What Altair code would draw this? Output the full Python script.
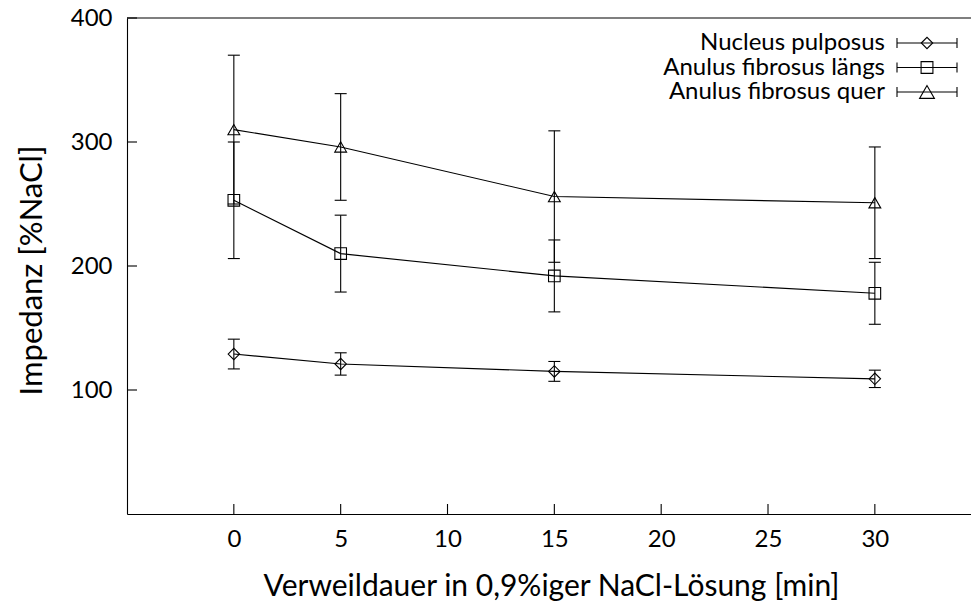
import altair as alt
import pandas as pd

# ---- data ----
times = [0, 5, 15, 30]
series_names = ["Nucleus pulposus", "Anulus fibrosus längs", "Anulus fibrosus quer"]
np_mean = [129, 121, 115, 109]
np_err = [12, 9, 8, 7]
afl_mean = [253, 210, 192, 178]
afl_err = [47, 31, 29, 25]
afq_mean = [310, 296, 256, 251]
afq_err = [60, 43, 53, 45]
x_ticks = [0, 5, 10, 15, 20, 25, 30]
y_ticks = [100, 200, 300, 400]
shapes = ["diamond", "square", "triangle-up"]
sizes = [130, 140, 220]

rows = []
for name, means, errs in zip(series_names, [np_mean, afl_mean, afq_mean], [np_err, afl_err, afq_err]):
    for t, m, e in zip(times, means, errs):
        rows.append({"series": name, "t": t, "mean": m, "lo": m - e, "hi": m + e})
df = pd.DataFrame(rows)

W, H = 844, 496
FONT = "Lato"
XT = "Verweildauer in 0,9%iger NaCl-Lösung [min]"
YT = "Impedanz [%NaCl]"
INK = "black"
SW = 1.1

xscale = alt.Scale(domain=[-5, 34.5], nice=False, zero=False)
yscale = alt.Scale(domain=[0, 400], nice=False, zero=False)
x_axis = alt.Axis(values=x_ticks, labelPadding=13, titleX=424, titleY=81,
                  titleAlign="center", titleBaseline="alphabetic")
y_axis = alt.Axis(values=y_ticks, labelPadding=15, titleX=-86, titleY=252, titleAngle=270,
                  titleAlign="center", titleBaseline="alphabetic", titleFontSize=31)


def X(field):
    return alt.X(field, type="quantitative", scale=xscale, axis=x_axis, title=XT)


def Y(field):
    return alt.Y(field, type="quantitative", scale=yscale, axis=y_axis, title=YT)


base = alt.Chart(df)

lines = base.mark_line(color=INK, strokeWidth=SW).encode(
    x=X("t"), y=Y("mean"), detail="series:N"
)
bars = base.mark_rule(color=INK, strokeWidth=SW).encode(
    x=X("t"), y=Y("lo"), y2="hi"
)
cap_lo = base.mark_rule(color=INK, strokeWidth=SW, xOffset=-6, x2Offset=6).encode(
    x=X("t"), x2="t", y=Y("lo")
)
cap_hi = base.mark_rule(color=INK, strokeWidth=SW, xOffset=-6, x2Offset=6).encode(
    x=X("t"), x2="t", y=Y("hi")
)
points = base.mark_point(filled=False, color=INK, strokeWidth=SW, opacity=1).encode(
    x=X("t"), y=Y("mean"),
    shape=alt.Shape("series:N", scale=alt.Scale(domain=series_names, range=shapes), legend=None),
    size=alt.Size("series:N", scale=alt.Scale(domain=series_names, range=sizes), legend=None),
)

# inward tick marks
yt = alt.Chart(pd.DataFrame({"v": y_ticks})).mark_rule(color=INK, strokeWidth=SW).encode(
    y=Y("v"), x=alt.value(0), x2=alt.value(10)
)
xt = alt.Chart(pd.DataFrame({"v": x_ticks})).mark_rule(color=INK, strokeWidth=SW).encode(
    x=X("v"), y=alt.value(H - 10), y2=alt.value(H)
)
top = alt.Chart(pd.DataFrame({"a": [0]})).mark_rule(color=INK, strokeWidth=SW).encode(
    x=alt.value(0), x2=alt.value(W), y=alt.value(0)
)

# key (top right)
legend_layers = []
for i, name in enumerate(series_names):
    yp = 25 + 24.5 * i
    one = alt.Chart(pd.DataFrame({"label": [name]}))
    legend_layers += [
        one.mark_text(align="right", baseline="middle", font=FONT, fontSize=24, color=INK).encode(
            x=alt.value(758), y=alt.value(yp), text="label:N"),
        one.mark_rule(color=INK, strokeWidth=SW).encode(
            x=alt.value(770), x2=alt.value(830), y=alt.value(yp)),
        one.mark_rule(color=INK, strokeWidth=SW).encode(
            x=alt.value(770), y=alt.value(yp - 5), y2=alt.value(yp + 5)),
        one.mark_rule(color=INK, strokeWidth=SW).encode(
            x=alt.value(830), y=alt.value(yp - 5), y2=alt.value(yp + 5)),
        one.mark_point(shape=shapes[i], size=sizes[i], filled=False, color=INK,
                       strokeWidth=SW, opacity=1).encode(
            x=alt.value(800), y=alt.value(yp)),
    ]

chart = alt.layer(lines, bars, cap_lo, cap_hi, points, yt, xt, top, *legend_layers).properties(
    width=W, height=H,
    autosize=alt.AutoSizeParams(type="none"),
    padding={"left": 127, "top": 18, "right": 0, "bottom": 90},
).configure_axis(
    domainColor=INK, domainWidth=SW, ticks=False, tickSize=0, grid=False,
    labelFont=FONT, labelFontSize=24, labelColor=INK,
    titleFont=FONT, titleFontSize=30, titleFontWeight="normal", titleColor=INK,
).configure_view(stroke=None)

chart.save("out.html", embed_options={"renderer": "svg", "actions": False})
